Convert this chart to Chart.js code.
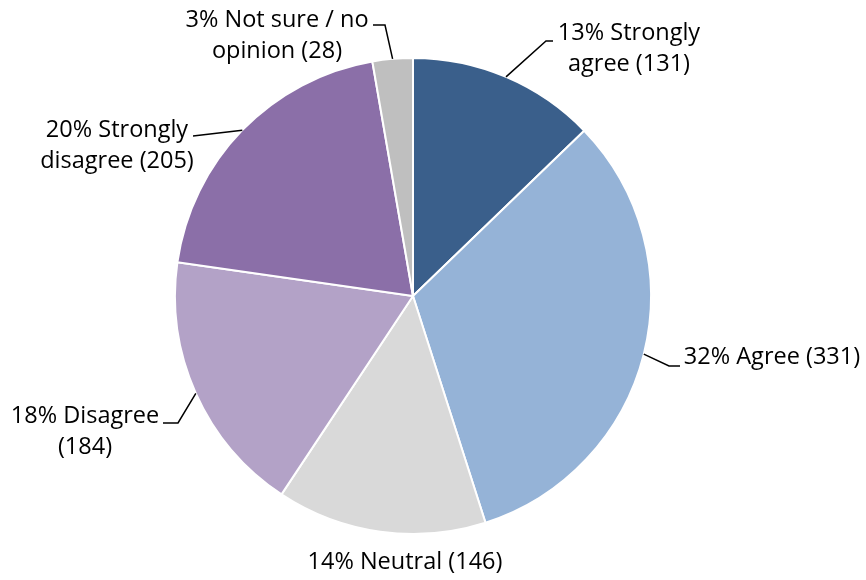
<!DOCTYPE html>
<html>
<head>
<meta charset="utf-8">
<script src="https://cdn.jsdelivr.net/npm/chart.js@4.4.1/dist/chart.umd.min.js"></script>
<style>
  html, body { margin: 0; padding: 0; background: #ffffff; }
  #wrap { width: 866px; height: 580px; position: relative; }
</style>
</head>
<body>
<div id="wrap"><canvas id="c" width="866" height="580"></canvas></div>
<script>
// Survey responses
const categories = ['Strongly agree', 'Agree', 'Neutral', 'Disagree', 'Strongly disagree', 'Not sure / no opinion'];
const counts = [131, 331, 146, 184, 205, 28];
const sliceColors = ['#3A5F8B', '#95B3D7', '#D9D9D9', '#B3A2C7', '#8B6FA8', '#BFBFBF'];

// Label text lines per slice ({p} = percent, {n} = count)
const labelLines = [
  ['{p}% Strongly', 'agree ({n})'],
  ['{p}% Agree ({n})'],
  ['{p}% Neutral ({n})'],
  ['{p}% Disagree', '({n})'],
  ['{p}% Strongly', 'disagree ({n})'],
  ['{p}% Not sure / no', 'opinion ({n})']
];

// Where each label sits and how its leader line bends (canvas pixels)
const labelLayout = [
  { x: 629, y: 33, leader: [[546, 41], [553, 41]] },
  { x: 772, y: 357, leader: [[669, 366], [680, 366]] },
  { x: 405, y: 562, leader: null },
  { x: 85, y: 416, leader: [[178, 423], [163, 423]] },
  { x: 117, y: 130, leader: [[193, 136]] },
  { x: 277, y: 20, leader: [[385, 25], [373, 25]] }
];

const LINE_H = 31.5;

const labelPlugin = {
  id: 'sliceLabels',
  afterDatasetsDraw(chart) {
    const ctx = chart.ctx;
    const meta = chart.getDatasetMeta(0);
    const data = chart.data.datasets[0].data;
    const total = data.reduce((a, b) => a + b, 0);
    ctx.save();
    meta.data.forEach((arc, i) => {
      const p = arc.getProps(['x', 'y', 'startAngle', 'endAngle', 'outerRadius'], true);
      const mid = (p.startAngle + p.endAngle) / 2;
      const sx = p.x + Math.cos(mid) * p.outerRadius;
      const sy = p.y + Math.sin(mid) * p.outerRadius;
      const lay = labelLayout[i];
      if (lay.leader) {
        ctx.beginPath();
        ctx.strokeStyle = '#000000';
        ctx.lineWidth = 1.5;
        ctx.moveTo(sx, sy);
        lay.leader.forEach(pt => ctx.lineTo(pt[0], pt[1]));
        ctx.stroke();
      }
      const pct = Math.round(data[i] / total * 100);
      const lines = labelLines[i].map(s => s.replace('{p}', pct).replace('{n}', data[i]));
      ctx.fillStyle = '#000000';
      ctx.font = '23.5px "Open Sans", Lato, sans-serif';
      ctx.textAlign = 'center';
      ctx.textBaseline = 'middle';
      lines.forEach((ln, k) => ctx.fillText(ln, lay.x, lay.y + k * LINE_H));
    });
    ctx.restore();
  }
};

new Chart(document.getElementById('c'), {
  type: 'pie',
  data: {
    labels: categories,
    datasets: [{
      data: counts,
      backgroundColor: sliceColors,
      borderColor: '#ffffff',
      borderWidth: 2
    }]
  },
  options: {
    responsive: false,
    animation: false,
    layout: { padding: { left: 174, right: 214, top: 56, bottom: 44 } },
    plugins: {
      legend: { display: false },
      tooltip: { enabled: false }
    }
  },
  plugins: [labelPlugin]
});
</script>
</body>
</html>
